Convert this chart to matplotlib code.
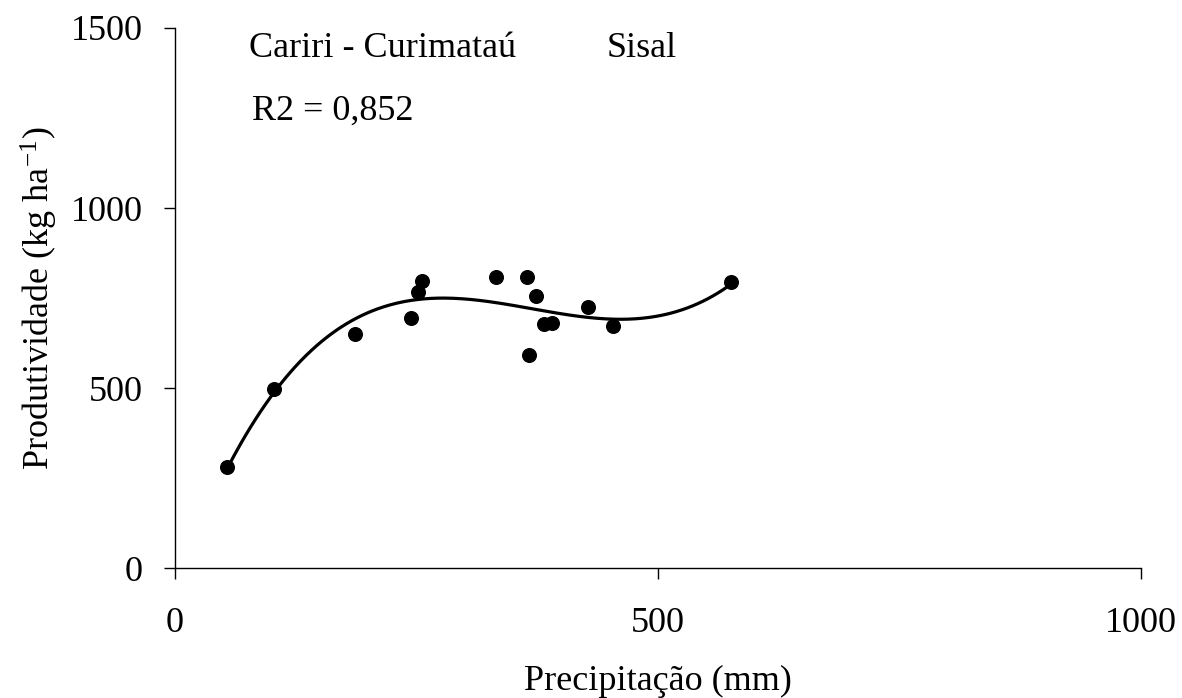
import numpy as np
import matplotlib
matplotlib.use("Agg")
import matplotlib.pyplot as plt

# precipitation (mm) and yield (kg/ha) per site
precip = [54, 103, 186, 244, 252, 256, 332, 364, 374, 366, 382, 390, 428, 453, 576]
yield_kg = [280, 497, 650, 694, 767, 796, 807, 807, 755, 591, 677, 681, 725, 673, 794]

x_ticks = [0, 500, 1000]
y_ticks = [0, 500, 1000, 1500]

plt.rcParams["font.family"] = ["Liberation Serif", "DejaVu Serif"]
plt.rcParams["mathtext.default"] = "regular"

fig = plt.figure(figsize=(11.82, 6.98), dpi=100)
ax = fig.add_axes([0.148, 0.1862, 0.8173, 0.7737])

# third order polynomial trend
coef = np.polyfit(precip, yield_kg, 3)
xs = np.linspace(min(precip), max(precip), 300)
ax.plot(xs, np.polyval(coef, xs), color="black", lw=2.3)
ax.plot(precip, yield_kg, "o", color="black", ms=9.8)

ax.set_xlim(0, 1000)
ax.set_ylim(0, 1500)
ax.set_xticks(x_ticks)
ax.set_yticks(y_ticks)
ax.spines["top"].set_visible(False)
ax.spines["right"].set_visible(False)
for s in ("left", "bottom"):
    ax.spines[s].set_linewidth(1.0)
ax.tick_params(axis="x", direction="out", length=8, width=1, pad=20, labelsize=26)
ax.tick_params(axis="y", direction="out", length=8, width=1, pad=15, labelsize=26)

ax.set_xlabel("Precipitação (mm)", fontsize=26, labelpad=18)
ax.set_ylabel("Produtividade (kg ha$^{-1}$)", fontsize=26, labelpad=8)

ax.text(77, 1419, "Cariri - Curimataú", fontsize=26, va="baseline")
ax.text(447, 1419, "Sisal", fontsize=26, va="baseline")
ax.text(80, 1245, "R2 = 0,852", fontsize=26, va="baseline")

fig.savefig("out.png", dpi=100)
